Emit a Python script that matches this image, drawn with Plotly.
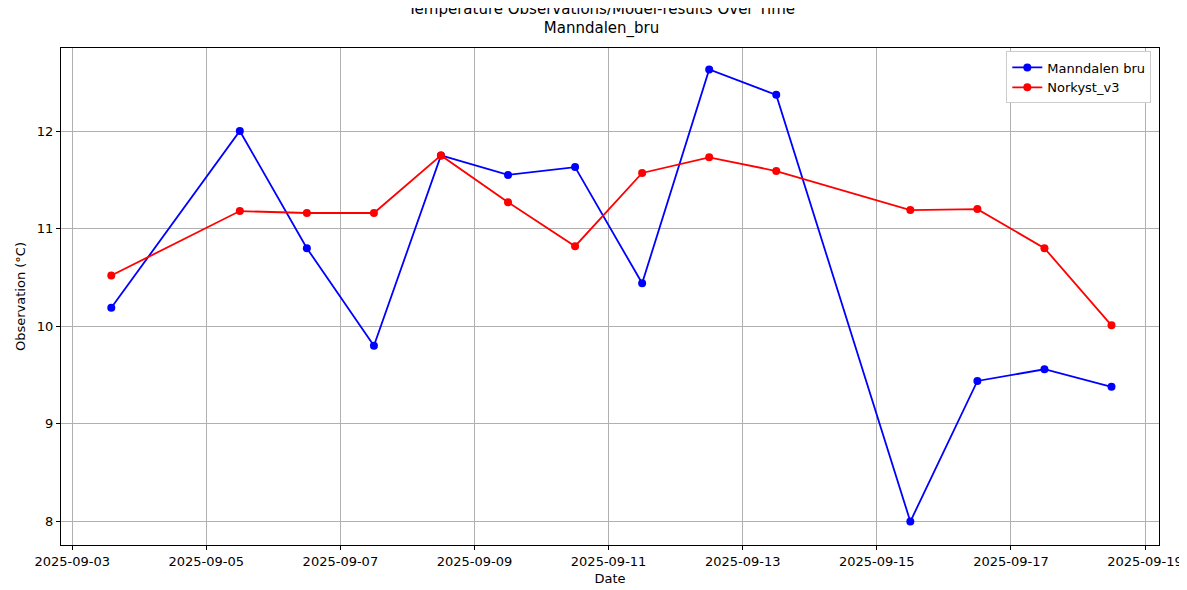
import plotly.graph_objects as go

dates = ["2025-09-03 14:00", "2025-09-05 12:00", "2025-09-06 12:00", "2025-09-07 12:00",
         "2025-09-08 12:00", "2025-09-09 12:00", "2025-09-10 12:00", "2025-09-11 12:00",
         "2025-09-12 12:00", "2025-09-13 12:00", "2025-09-15 12:00", "2025-09-16 12:00",
         "2025-09-17 12:00", "2025-09-18 12:00"]
obs = [10.19, 12.0, 10.8, 9.8, 11.75, 11.55, 11.63, 10.44, 12.63, 12.37, 8.0, 9.44, 9.56, 9.38]
model = [10.52, 11.18, 11.16, 11.16, 11.75, 11.27, 10.82, 11.57, 11.73, 11.59, 11.19, 11.20, 10.80, 10.01]

fig = go.Figure()
fig.add_trace(go.Scatter(x=dates, y=obs, mode="lines+markers", name="Manndalen bru",
                         line=dict(color="blue", width=1.8), marker=dict(color="blue", size=8)))
fig.add_trace(go.Scatter(x=dates, y=model, mode="lines+markers", name="Norkyst_v3",
                         line=dict(color="red", width=1.8), marker=dict(color="red", size=8)))

ax = dict(showgrid=True, gridcolor="#b0b0b0", gridwidth=1, showline=True, linecolor="black",
          mirror=True, ticks="outside", ticklen=4, tickcolor="black", zeroline=False,
          tickfont=dict(size=13, color="black"))
fig.update_layout(
    width=1187, height=590, paper_bgcolor="white", plot_bgcolor="white",
    font=dict(family="DejaVu Sans", color="black"),
    margin=dict(l=49, r=30, t=40, b=53),
    title=dict(text="Temperature Observations/Model-results Over Time<br>Manndalen_bru",
               x=0.5, xanchor="center", y=0.99, yanchor="top", font=dict(size=15)),
    xaxis=dict(**ax, range=["2025-09-02 20:00", "2025-09-19 05:00"], dtick=2*86400000,
               tick0="2025-09-03", tickformat="%Y-%m-%d",
               title=dict(text="Date", font=dict(size=13), standoff=6)),
    yaxis=dict(**ax, range=[7.76, 12.85], dtick=1,
               title=dict(text="Observation (°C)", font=dict(size=13), standoff=8)),
    legend=dict(x=0.993, y=0.993, xanchor="right", yanchor="top", bordercolor="#cccccc",
                borderwidth=1, bgcolor="white", font=dict(size=13)),
)
fig.write_html("out.html")
